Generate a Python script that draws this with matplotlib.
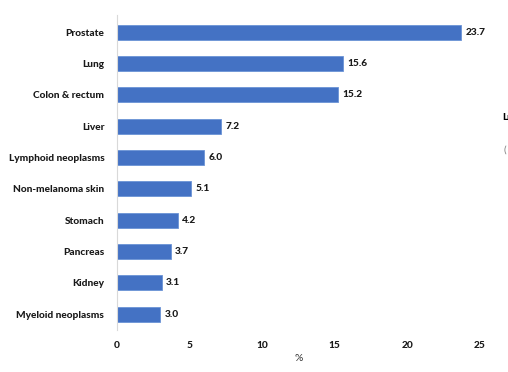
import matplotlib.pyplot as plt

plt.rcParams["font.family"] = ["Lato", "DejaVu Sans"]

# Most common cancers, share of new cases (%)
sites = ["Prostate", "Lung", "Colon & rectum", "Liver", "Lymphoid neoplasms",
         "Non-melanoma skin", "Stomach", "Pancreas", "Kidney", "Myeloid neoplasms"]
shares = [23.7, 15.6, 15.2, 7.2, 6.0, 5.1, 4.2, 3.7, 3.1, 3.0]
x_ticks = [0, 5, 10, 15, 20, 25]

fig = plt.figure(figsize=(5.08, 3.72), dpi=100)
ax = fig.add_axes([0.230, 0.113, 0.715, 0.847])

pos = list(range(len(sites)))
ax.barh(pos, shares, height=0.48, color="#4472C4", edgecolor="#6b93d6", linewidth=0.6)

for y, v in zip(pos, shares):
    ax.text(v + 0.3, y, f"{v:.1f}", va="center", ha="left",
            fontsize=7.3, fontweight="black", color="#1a1a1a")

ax.set_yticks(pos)
ax.set_yticklabels(sites, fontsize=7.3, fontweight="black", color="#1a1a1a")
ax.set_ylim(9.5, -0.55)
ax.set_xlim(0, 25)
ax.set_xticks(x_ticks)
ax.set_xticklabels([str(t) for t in x_ticks], fontsize=7.3, fontweight="black", color="#1a1a1a")
ax.tick_params(axis="both", length=0)
ax.tick_params(axis="x", pad=8)
ax.tick_params(axis="y", pad=9)
ax.set_xlabel("%", fontsize=7.5, color="#333333", labelpad=3)

for side in ["top", "right", "bottom"]:
    ax.spines[side].set_visible(False)
ax.spines["left"].set_color("#d9d9d9")
ax.spines["left"].set_linewidth(0.8)

# legend text running off the right edge
fig.text(0.989, 1 - 118 / 372, "Lu", fontsize=7, fontweight="black", va="center", ha="left")
fig.text(0.992, 1 - 150 / 372, "(", fontsize=7, color="#777777", va="center", ha="left")

fig.savefig("out.png", dpi=100)
